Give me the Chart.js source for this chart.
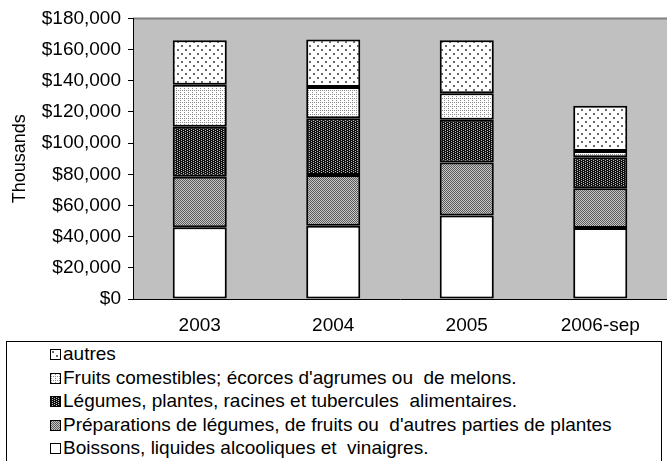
<!DOCTYPE html>
<html>
<head>
<meta charset="utf-8">
<script src="https://cdn.jsdelivr.net/npm/chart.js@4.4.1/dist/chart.umd.min.js"></script>
<style>
  body { margin: 0; background: #fff; width: 667px; height: 461px; overflow: hidden; position: relative; font-family: "Liberation Sans", Arial, sans-serif; }
  #wrap { position: absolute; left: 0; top: 0; width: 667px; height: 340px; }
  #legend { position: absolute; left: 6px; top: 341px; width: 656px; height: 140px; border: 1px solid #000; box-sizing: border-box; padding-top: 0px; }
  .item { height: 23.5px; line-height: 23.5px; font-size: 19px; color: #000; padding-left: 43px; white-space: pre; }
  .sw { display: inline-block; width: 9px; height: 9px; border: 1px solid #000; margin-right: 2px; vertical-align: 0px; }
</style>
</head>
<body>
<div id="wrap"><canvas id="chart" width="667" height="340"></canvas></div>
<div id="legend"></div>
<script>
// Data (values in dollars, thousands axis)
const categories = ['2003', '2004', '2005', '2006-sep'];
const seriesNames = [
  'Boissons, liquides alcooliques et  vinaigres.',
  'Préparations de légumes, de fruits ou  d\'autres parties de plantes',
  'Légumes, plantes, racines et tubercules  alimentaires.',
  'Fruits comestibles; écorces d\'agrumes ou  de melons.',
  'autres'
];
const boissons     = [46000, 47000, 53500, 45500];
const preparations = [32500, 32500, 34000, 25500];
const legumes      = [32000, 36500, 27500, 20000];
const fruits       = [27000, 20000, 17000, 4000];
const autres       = [28500, 30500, 34000, 29000];
const yTicks = [0, 20000, 40000, 60000, 80000, 100000, 120000, 140000, 160000, 180000];

// small pattern tiles
function makeTile(size, bg, fg, dots) {
  const c = document.createElement('canvas');
  c.width = size; c.height = size;
  const g = c.getContext('2d');
  g.fillStyle = bg;
  g.fillRect(0, 0, size, size);
  g.fillStyle = fg;
  dots.forEach(d => g.fillRect(d[0], d[1], d[2] || 1, d[3] || 1));
  return c;
}

const tiles = [
  makeTile(4, '#ffffff', '#ffffff', []),
  makeTile(2, '#c8c8c8', '#5a5a5a', [[0, 0], [1, 1]]),
  makeTile(4, '#101010', '#bdbdbd', [[1, 0], [1, 2], [3, 1], [3, 3]]),
  makeTile(4, '#ffffff', '#8c8c8c', [[0, 0], [2, 2], [0, 2]]),
  makeTile(8, '#ffffff', '#6a6a6a', [[1, 1, 2, 2], [5, 5, 2, 2]])
];

const ctx = document.getElementById('chart').getContext('2d');
const patterns = tiles.map(t => ctx.createPattern(t, 'repeat'));
const values = [boissons, preparations, legumes, fruits, autres];

// gray plot background
const plotBg = {
  id: 'plotBg',
  beforeDraw(chart) {
    const a = chart.chartArea;
    const c = chart.ctx;
    c.save();
    c.fillStyle = '#c0c0c0';
    c.fillRect(a.left, a.top, a.right - a.left, a.bottom - a.top);
    c.strokeStyle = '#808080';
    c.lineWidth = 2;
    c.beginPath();
    c.moveTo(a.left, a.top);
    c.lineTo(a.right, a.top);
    c.stroke();
    c.restore();
  }
};

new Chart(ctx, {
  type: 'bar',
  data: {
    labels: categories,
    datasets: seriesNames.map((name, i) => ({
      label: name,
      data: values[i],
      backgroundColor: patterns[i],
      borderColor: '#000',
      borderWidth: 2,
      borderSkipped: false,
      barPercentage: 0.405,
      categoryPercentage: 1
    }))
  },
  options: {
    responsive: false,
    animation: false,
    layout: { padding: { top: 18, right: 0, left: 6, bottom: 0 } },
    plugins: {
      legend: { display: false },
      tooltip: { enabled: false }
    },
    scales: {
      x: {
        stacked: true,
        grid: { display: false, drawTicks: false },
        border: { display: true, color: '#000', width: 1 },
        afterFit(scale) { scale.height = 41; },
        ticks: { color: '#000', font: { family: 'Liberation Sans', size: 19 }, padding: 15 }
      },
      y: {
        stacked: true,
        min: 0,
        max: 180000,
        afterBuildTicks(scale) { scale.ticks = yTicks.map(v => ({ value: v })); },
        afterFit(scale) { scale.width = 127; },
        grid: { display: true, drawOnChartArea: false, tickLength: 5, color: '#000' },
        border: { display: true, color: '#000', width: 1 },
        ticks: {
          color: '#000',
          padding: 7,
          font: { family: 'Liberation Sans', size: 19 },
          callback: v => '$' + v.toLocaleString('en-US')
        },
        title: {
          display: true,
          text: 'Thousands',
          color: '#000',
          font: { family: 'Liberation Sans', size: 18 },
          padding: { top: 3, bottom: 0 }
        }
      }
    }
  },
  plugins: [plotBg]
});

// legend box below the chart, top of stack first
const legend = document.getElementById('legend');
for (let i = seriesNames.length - 1; i >= 0; i--) {
  const row = document.createElement('div');
  row.className = 'item';
  const sw = document.createElement('span');
  sw.className = 'sw';
  sw.style.backgroundImage = 'url(' + tiles[i].toDataURL() + ')';
  row.appendChild(sw);
  row.appendChild(document.createTextNode(seriesNames[i]));
  legend.appendChild(row);
}
</script>
</body>
</html>
